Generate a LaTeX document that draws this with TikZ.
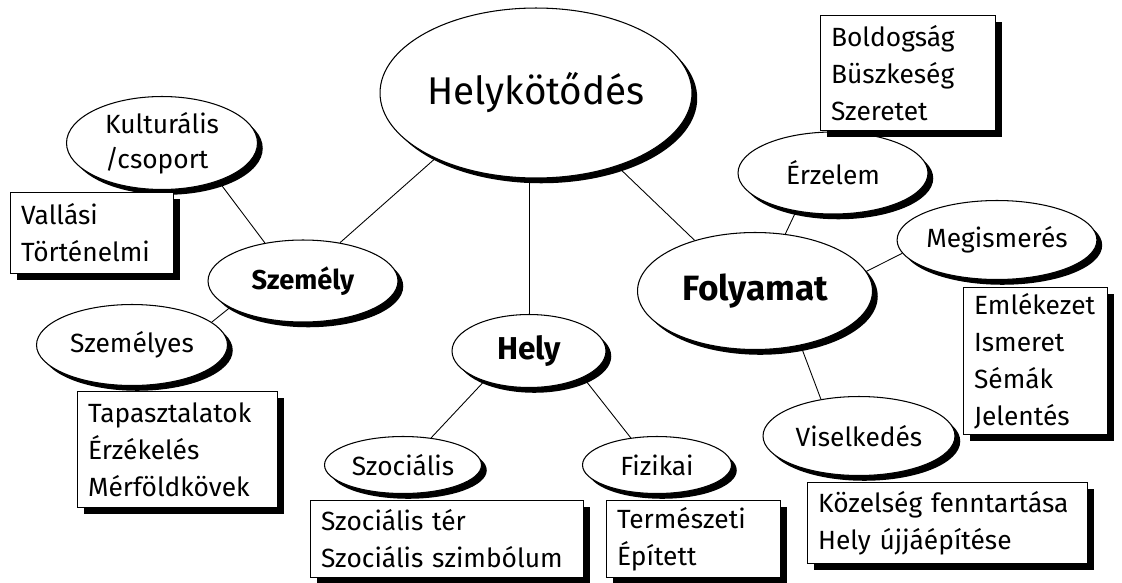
\documentclass[tikz,border=0pt]{standalone}
\usepackage{fontspec}
\setmainfont{Fira Sans}
\usetikzlibrary{positioning, shapes, shadows}
\tikzstyle{bubble} = [draw, ellipse, fill=white, inner sep=0pt, line width=0.6pt,
	drop shadow={shadow xshift=3pt, shadow yshift=-3pt, fill=black, opacity=1},
	font=\fontsize{15}{20}\selectfont, align=center]
\tikzstyle{topic} = [bubble, font=\bfseries\fontsize{15.5}{20}\selectfont]
\tikzstyle{listbox} = [draw, rectangle, fill=white, anchor=north west, align=left,
	inner xsep=6pt, line width=0.6pt,
	drop shadow={shadow xshift=3.5pt, shadow yshift=-3.5pt, fill=black, opacity=1},
	font=\fontsize{15}{21}\selectfont]
\tikzstyle{line} = [draw, line width=0.5pt]

\begin{document}
\begin{tikzpicture}[x=0.02cm, y=-0.02cm]
		\useasboundingbox (0,0) rectangle (1122,582);

		\node [bubble, minimum width=6.24cm, minimum height=3.4cm,
			font=\fontsize{22}{26}\selectfont] (helyk) at (536,93) {Helykötődés};
		\node [topic, minimum width=3.8cm, minimum height=1.64cm] (szemely) at (303,281) {Személy};
		\node [topic, minimum width=3.08cm, minimum height=1.46cm,
			font=\bfseries\fontsize{18}{22}\selectfont] (hely) at (529,351) {Hely};
		\node [topic, minimum width=4.7cm, minimum height=2.34cm,
			font=\bfseries\fontsize{20}{24}\selectfont] (folyamat) at (755,291) {Folyamat};

		\node [bubble, minimum width=3.82cm, minimum height=1.86cm, align=left] (kult) at (162,143) {Kulturális\\/csoport};
		\node [bubble, minimum width=3.82cm, minimum height=1.62cm] (szemelyes) at (132,345) {Személyes};
		\node [bubble, minimum width=3.14cm, minimum height=1.14cm] (szoc) at (403,465) {Szociális};
		\node [bubble, minimum width=2.98cm, minimum height=1.14cm] (fiz) at (657,465) {Fizikai};
		\node [bubble, minimum width=3.8cm, minimum height=1.64cm] (erz) at (833,173) {Érzelem};
		\node [bubble, minimum width=3.78cm, minimum height=1.58cm] (megism) at (997,240) {Megismerés};
		\node [bubble, minimum width=3.84cm, minimum height=1.58cm] (visel) at (859,436) {Viselkedés};

		\node [listbox, text width=80.7pt, minimum height=1.62cm] (vallasi) at (10,192) {Vallási\\Történelmi};
		\node [listbox, text width=101.8pt, minimum height=2.32cm] (tapasz) at (77,391) {Tapasztalatok\\Érzékelés\\Mérföldkövek};
		\node [listbox, text width=143.3pt, minimum height=1.54cm] (szocter) at (310,500) {Szociális tér\\Szociális szimbólum};
		\node [listbox, text width=87pt, minimum height=1.54cm] (termesz) at (606,500) {Természeti\\Épített};
		\node [listbox, text width=87.6pt, minimum height=2.3cm] (boldog) at (820,15) {Boldogság\\Büszkeség\\Szeretet};
		\node [listbox, text width=69.9pt, minimum height=2.92cm] (emlek) at (963,287) {Emlékezet\\Ismeret\\Sémák\\Jelentés};
		\node [listbox, text width=147.3pt, minimum height=1.62cm] (kozel) at (807,482) {Közelség fenntartása\\Hely újjáépítése};

		\path [line] (helyk.213) -- (szemely.46);
		\path [line] (hely.north) -- (hely.north |- helyk.south);
		\path [line] (helyk.-42) -- (folyamat.140);
		\path [line] (kult.-34) -- (szemely.135);
		\path [line] (szemely.200) -- (szemelyes.16);
		\path [line] (hely.214) -- (szoc.44);
		\path [line] (hely.-26) -- (fiz.134);
		\path [line] (folyamat.62) -- (erz.226);
		\path [line] (folyamat.10) -- (megism.188);
		\path [line] (folyamat.-50) -- (visel.136);
	\end{tikzpicture}
\end{document}
